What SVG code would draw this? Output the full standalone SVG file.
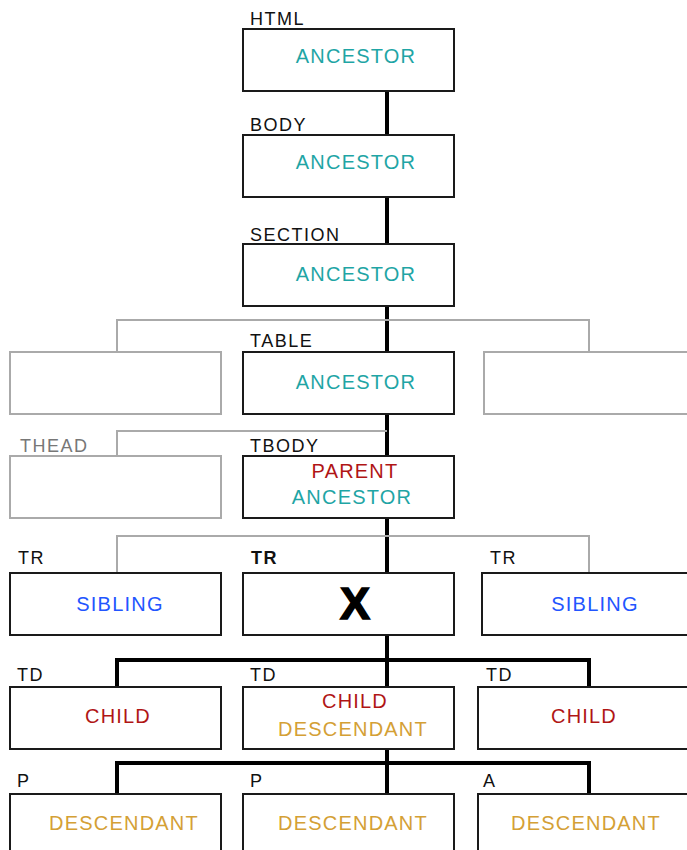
<svg xmlns="http://www.w3.org/2000/svg" width="687" height="850" viewBox="0 0 687 850">
<style>
  .box { fill: #fff; stroke: #1a1a1a; stroke-width: 2; }
  .gbox { fill: #fff; stroke: #aaaaaa; stroke-width: 2; }
  .lbl { font-family: "Liberation Sans", Arial, sans-serif; font-size: 18px; letter-spacing: 1.5px; fill: #111; }
  .glbl { fill: #777; }
  .bold { font-weight: bold; }
  .t { font-family: "Liberation Sans", Arial, sans-serif; font-size: 20px; letter-spacing: 1.2px; text-anchor: middle; }
  .anc { fill: #1fa5a5; }
  .par { fill: #b01515; }
  .des { fill: #d4a035; }
  .sib { fill: #2255ff; }
  .x { font-family: "Liberation Sans", Arial, sans-serif; font-size: 45px; font-weight: bold; text-anchor: middle; fill: #000; stroke: #000; stroke-width: 1.5; }
  .k { stroke: #000; stroke-width: 4; fill: none; }
  .g { stroke: #aaaaaa; stroke-width: 2; fill: none; }
</style>
<g id="connectors">
  <path class="k" d="M387 91V135M387 197V244M387 306V352M387 414V456M387 518V573M387 635V687M387 749V794"/>
  <path class="g" d="M117 352V320H589V352"/>
  <path class="g" d="M117 456V431H387"/>
  <path class="g" d="M117 573V536H589V573"/>
  <path class="k" d="M117 687V660H589V687"/>
  <path class="k" d="M117 794V763H589V794"/>
</g>
<g id="html">
  <text class="lbl" x="250" y="25">HTML</text>
  <rect class="box" x="243" y="29" width="211" height="62"/>
  <text class="t anc" x="356" y="63">ANCESTOR</text>
</g>
<g id="body">
  <text class="lbl" x="250" y="131">BODY</text>
  <rect class="box" x="243" y="135" width="211" height="62"/>
  <text class="t anc" x="356" y="169">ANCESTOR</text>
</g>
<g id="section">
  <text class="lbl" x="250" y="241">SECTION</text>
  <rect class="box" x="243" y="244" width="211" height="62"/>
  <text class="t anc" x="356" y="281">ANCESTOR</text>
</g>
<g id="table-left">
  <rect class="gbox" x="10" y="352" width="211" height="62"/>
</g>
<g id="table">
  <text class="lbl" x="250" y="347">TABLE</text>
  <rect class="box" x="243" y="352" width="211" height="62"/>
  <text class="t anc" x="356" y="389">ANCESTOR</text>
</g>
<g id="table-right">
  <rect class="gbox" x="484" y="352" width="212" height="62"/>
</g>
<g id="thead">
  <text class="lbl glbl" x="20" y="452">THEAD</text>
  <rect class="gbox" x="10" y="456" width="211" height="62"/>
</g>
<g id="tbody">
  <text class="lbl" x="250" y="452">TBODY</text>
  <rect class="box" x="243" y="456" width="211" height="62"/>
  <text class="t par" x="355" y="478">PARENT</text>
  <text class="t anc" x="352" y="504">ANCESTOR</text>
</g>
<g id="tr-left">
  <text class="lbl" x="18" y="564">TR</text>
  <rect class="box" x="10" y="573" width="211" height="62"/>
  <text class="t sib" x="120" y="611">SIBLING</text>
</g>
<g id="tr-x">
  <text class="lbl bold" x="251" y="564">TR</text>
  <rect class="box" x="243" y="573" width="211" height="62"/>
  <text class="x" x="355" y="619">X</text>
</g>
<g id="tr-right">
  <text class="lbl" x="490" y="564">TR</text>
  <rect class="box" x="482" y="573" width="212" height="62"/>
  <text class="t sib" x="595" y="611">SIBLING</text>
</g>
<g id="td-left">
  <text class="lbl" x="17" y="681">TD</text>
  <rect class="box" x="10" y="687" width="211" height="62"/>
  <text class="t par" x="118" y="723">CHILD</text>
</g>
<g id="td-center">
  <text class="lbl" x="250" y="681">TD</text>
  <rect class="box" x="243" y="687" width="211" height="62"/>
  <text class="t par" x="355" y="708">CHILD</text>
  <text class="t des" x="353" y="736">DESCENDANT</text>
</g>
<g id="td-right">
  <text class="lbl" x="486" y="681">TD</text>
  <rect class="box" x="478" y="687" width="212" height="62"/>
  <text class="t par" x="584" y="723">CHILD</text>
</g>
<g id="p-left">
  <text class="lbl" x="17" y="787">P</text>
  <rect class="box" x="10" y="794" width="211" height="62"/>
  <text class="t des" x="124" y="830">DESCENDANT</text>
</g>
<g id="p-center">
  <text class="lbl" x="250" y="787">P</text>
  <rect class="box" x="243" y="794" width="211" height="62"/>
  <text class="t des" x="353" y="830">DESCENDANT</text>
</g>
<g id="a-right">
  <text class="lbl" x="483" y="787">A</text>
  <rect class="box" x="478" y="794" width="212" height="62"/>
  <text class="t des" x="586" y="830">DESCENDANT</text>
</g>
</svg>
